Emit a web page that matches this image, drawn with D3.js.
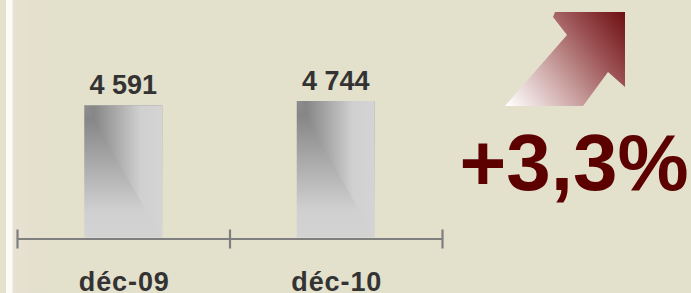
<!DOCTYPE html>
<html><head><meta charset="utf-8">
<script src="https://cdn.jsdelivr.net/npm/d3@7"></script>
<style>
html,body{margin:0;padding:0;background:#e3e0cc;overflow:hidden}
svg{display:block}
text{font-family:"Liberation Sans",Arial,sans-serif;font-weight:bold}
</style></head>
<body>
<script>
const categories = ["déc-09", "déc-10"];
const values = [4591, 4744];
const valueLabels = ["4 591", "4 744"];
const changeLabel = "+3,3%";

const W = 691, H = 293;
const svg = d3.select("body").append("svg").attr("width", W).attr("height", H);
const defs = svg.append("defs");

// background
svg.append("rect").attr("width", W).attr("height", H).attr("fill", "#e3e0cc");
const lg = defs.append("linearGradient").attr("id", "leftShade").attr("x1", 0).attr("x2", 1).attr("y1", 0).attr("y2", 0);
lg.append("stop").attr("offset", 0).attr("stop-color", "#e8e1d4");
lg.append("stop").attr("offset", 1).attr("stop-color", "#e3e0cc");
svg.append("rect").attr("x", 12).attr("y", 0).attr("width", 24).attr("height", H).attr("fill", "url(#leftShade)");
svg.append("rect").attr("x", 6).attr("y", 0).attr("width", 6.5).attr("height", H).attr("fill", "#fdfbf7");

// gradients for bars
const gh = defs.append("linearGradient").attr("id", "barH").attr("x1", 0).attr("x2", 1).attr("y1", 0).attr("y2", 0);
[[0, "#8e8e8e"], [0.12, "#868686"], [0.72, "#d0d0d0"], [1, "#d4d4d4"]].forEach(([o, c]) => gh.append("stop").attr("offset", o).attr("stop-color", c));
const gv = defs.append("linearGradient").attr("id", "barV").attr("x1", 0).attr("x2", 0).attr("y1", 0).attr("y2", 1);
[[0, "#8e8e8e"], [0.1, "#868686"], [0.8, "#d0d0d0"], [1, "#d3d3d3"]].forEach(([o, c]) => gv.append("stop").attr("offset", o).attr("stop-color", c));

const x0 = 17, x1 = 442, base = 237.5;
const x = d3.scaleBand().domain(categories).range([x0, x1]).paddingInner(0).paddingOuter(0);
const y = d3.scaleLinear().domain([0, 4744]).range([base, 101]);
const barW = 78;

const bars = svg.append("g").selectAll("g").data(values).join("g");
bars.each(function(v, i) {
  const cx = x(categories[i]) + x.bandwidth() / 2;
  const L = cx - barW / 2, R = cx + barW / 2, T = y(v), B = y(0);
  const g = d3.select(this);
  g.append("rect").attr("x", L).attr("y", T).attr("width", barW).attr("height", B - T).attr("fill", "url(#barV)");
  g.append("polygon").attr("points", [[L, T], [R, T], [R, B]].join(" ")).attr("fill", "url(#barH)");
  g.append("text").attr("x", cx).attr("y", T - 11).attr("text-anchor", "middle")
    .attr("font-size", 27).attr("fill", "#333333").text(valueLabels[i]);
  g.append("text").attr("x", cx + 1).attr("y", 291).attr("text-anchor", "middle")
    .attr("font-size", 27).attr("letter-spacing", 0.9).attr("fill", "#333333").text(categories[i]);
});

// axis with ticks at band edges
const xe = d3.scaleLinear().domain([0, categories.length]).range([x0, x1]);
const axis = svg.append("g").attr("transform", `translate(0,${base + 1})`)
  .call(d3.axisBottom(xe).tickValues(d3.range(categories.length + 1)).tickFormat("").tickSizeOuter(0).tickSizeInner(10));
axis.select(".domain").attr("stroke", "#7f7f7f").attr("stroke-width", 2.2);
axis.selectAll(".tick line").attr("y1", -9).attr("y2", 10).attr("stroke", "#7f7f7f").attr("stroke-width", 2.2);

// arrow
const ag = defs.append("linearGradient").attr("id", "arrowG").attr("gradientUnits", "userSpaceOnUse")
  .attr("x1", 508).attr("y1", 106).attr("x2", 628).attr("y2", 14);
[[0, "#ffffff"], [0.35, "#cfaaa9"], [0.7, "#9a4f51"], [1, "#6c0d10"]].forEach(([o, c]) => ag.append("stop").attr("offset", o).attr("stop-color", c));
const arrowPts = [[555, 12], [625, 12], [625, 87], [608, 72], [583, 106], [505, 106], [567, 35], [553, 17]];
svg.append("path").attr("d", d3.line().curve(d3.curveLinearClosed)(arrowPts)).attr("fill", "url(#arrowG)");

svg.append("text").attr("x", 574).attr("y", 190).attr("text-anchor", "middle")
  .attr("font-size", 80).attr("fill", "#5c0000").text(changeLabel);
</script>
</body></html>
